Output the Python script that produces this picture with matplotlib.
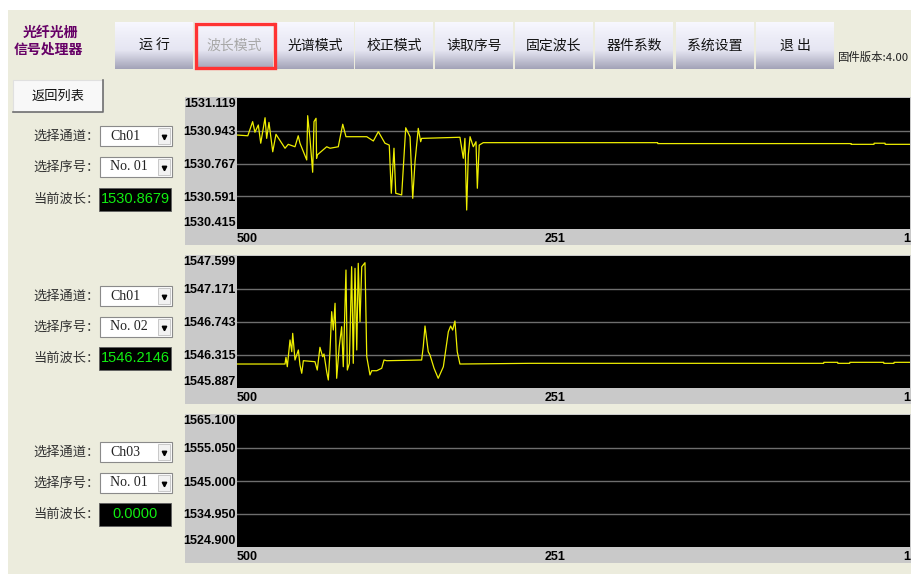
import numpy as np
import matplotlib.pyplot as plt
from matplotlib.patches import Rectangle
from matplotlib.transforms import ScaledTranslation

W, H = 912, 574
CJK = ['Noto Sans CJK SC', 'DejaVu Sans']

# top menu
buttons = ['运 行', '波长模式', '光谱模式', '校正模式', '读取序号', '固定波长', '器件系数', '系统设置', '退 出']
btn_left = [115, 195, 276, 355, 435, 515, 595, 676, 756]

# channel panels
ch_names = ['Ch01', 'Ch01', 'Ch03']
seq_names = ['No. 01', 'No. 02', 'No. 01']
cur_wave = ['1530.8679', '1546.2146', '0.0000']

ticks1 = [1530.415, 1530.591, 1530.767, 1530.943, 1531.119]
ticks2 = [1545.887, 1546.315, 1546.743, 1547.171, 1547.599]
ticks3 = [1524.900, 1534.950, 1545.000, 1555.050, 1565.100]
x_ticks = [500, 251, 1]
x_labels = ['500', '251', '1']

# channel 1 trace (sample index, wavelength)
ch1_idx = [500, 492, 488.4, 486.7, 484.2, 482.4, 479.2, 478.0, 476.3, 473.5, 471.1, 464.4, 462.0,
           457.0, 454.6, 453.3, 448.3, 447.6, 445.9, 443.9, 442.9, 441.4, 441.0, 440.5, 433.5,
           431.0, 424.9, 421.6, 419.2, 403.8, 398.9, 395.2, 390.3, 387.1, 385.6, 383.6, 382.3,
           377.9, 374.9, 371.7, 369.7, 368.0, 365.6, 363.8, 363.1, 334.7, 332.2, 331.0, 329.7,
           328.5, 327.2, 324.8, 322.8, 321.8, 320.4, 317.4, 188.1, 188.0, 44.7, 44.6, 27.7,
           27.6, 19.5, 19.4, 1]
ch1_val = [1530.920, 1530.916, 1530.992, 1530.935, 1530.974, 1530.876, 1531.013, 1530.902,
           1530.988, 1530.830, 1530.924, 1530.849, 1530.870, 1530.857, 1530.916, 1530.876,
           1530.786, 1531.024, 1530.902, 1530.720, 1530.992, 1531.010, 1530.795, 1530.813,
           1530.857, 1530.849, 1530.857, 1530.978, 1530.911, 1530.911, 1530.888, 1530.938,
           1530.876, 1530.866, 1530.607, 1530.849, 1530.607, 1530.598, 1530.959, 1530.911,
           1530.580, 1530.777, 1530.956, 1530.884, 1530.902, 1530.908, 1530.795, 1530.902,
           1530.517, 1530.813, 1530.911, 1530.857, 1530.884, 1530.634, 1530.866, 1530.879,
           1530.879, 1530.874, 1530.874, 1530.870, 1530.870, 1530.876, 1530.876, 1530.870,
           1530.870]

# channel 2 trace
ch2_idx = [500, 464.4, 463.7, 462.7, 460.7, 459.4, 458.7, 457.0, 454.5, 453.3, 452.0, 450.8,
           442.2, 440.5, 438.5, 436.5, 435.5, 433.5, 432.3, 431.0, 429.8, 428.6, 427.3, 426.1,
           424.2, 422.4, 421.2, 419.2, 418.2, 416.7, 415.0, 413.8, 412.5, 411.2, 410.1, 408.8,
           407.5, 405.1, 403.8, 401.4, 400.1, 396.4, 392.7, 391.0, 389.0, 363.1, 361.9, 360.6,
           358.2, 356.9, 353.9, 350.8, 347.0, 343.3, 341.6, 340.1, 338.4, 336.7, 334.7, 282.8,
           65.0, 64.9, 54.6, 54.5, 45.7, 45.6, 20.5, 20.4, 12.9, 12.8, 1]
ch2_val = [1546.198, 1546.198, 1546.285, 1546.163, 1546.510, 1546.358, 1546.596, 1546.250,
           1546.380, 1546.185, 1546.078, 1546.241, 1546.228, 1546.120, 1546.415, 1546.293,
           1546.328, 1546.098, 1545.991, 1546.380, 1546.877, 1546.639, 1546.986, 1546.013,
           1546.423, 1546.682, 1546.163, 1547.417, 1546.120, 1546.207, 1547.460, 1546.207,
           1547.439, 1546.380, 1547.504, 1546.747, 1547.460, 1547.512, 1546.293, 1546.056,
           1546.111, 1546.111, 1546.143, 1546.250, 1546.241, 1546.250, 1546.423, 1546.691,
           1546.358, 1546.315, 1546.143, 1546.013, 1546.163, 1546.617, 1546.691, 1546.639,
           1546.756, 1546.358, 1546.198, 1546.207, 1546.207, 1546.220, 1546.220, 1546.207,
           1546.207, 1546.220, 1546.220, 1546.207, 1546.207, 1546.220, 1546.220]


def fig_rect(x, y, w, h):
    return [x / W, 1 - (y + h) / H, w / W, h / H]


fig = plt.figure(figsize=(W / 100, H / 100), dpi=100, facecolor='white')
ax0 = fig.add_axes([0, 0, 1, 1])
ax0.set_xlim(0, W)
ax0.set_ylim(H, 0)
ax0.axis('off')

ax0.add_patch(Rectangle((8, 10), W - 8, H - 10, color='#ECECDD', lw=0))

# button gradient
stops = np.array([[0.97, 0.97, 1.0], [0.93, 0.93, 0.97], [0.90, 0.90, 0.95], [0.64, 0.64, 0.72]])
pos = np.linspace(0, 1, 60)
grad = np.stack([np.interp(pos, [0, 0.3, 0.6, 1], stops[:, c]) for c in range(3)], axis=1)
grad = grad[:, None, :]

for lbl, x0 in zip(buttons, btn_left):
    ax0.imshow(grad, extent=(x0, x0 + 78, 69, 22), aspect='auto', origin='upper', zorder=1)
    col = '#A8A8A8' if lbl == '波长模式' else '#111111'
    ax0.text(x0 + 39, 46, lbl, ha='center', va='center', fontsize=10, color=col, family=CJK, zorder=3)
ax0.add_patch(Rectangle((196, 24), 79, 44, fill=False, ec='#FF3333', lw=2.4, zorder=4))
ax0.set_xlim(0, W)
ax0.set_ylim(H, 0)

ax0.text(50, 33, '光纤光栅', ha='center', va='center', fontsize=10, fontweight='bold',
         color='#660066', family=CJK)
ax0.text(48, 50, '信号处理器', ha='center', va='center', fontsize=10, fontweight='bold',
         color='#660066', family=CJK)
ax0.text(838, 57, '固件版本:4.00', ha='left', va='center', fontsize=8.2, color='#222222', family=CJK)

# back button
ax0.add_patch(Rectangle((13, 80), 90, 32, fc='#F8F8F8', ec='#E0E0E0', lw=0.8))
ax0.plot([103, 103, 13], [80, 112, 112], color='#707070', lw=1.2)
ax0.text(58, 96, '返回列表', ha='center', va='center', fontsize=9.5, color='#111111', family=CJK)

row_y = [[136, 167, 199], [296, 327, 358], [452, 483, 514]]
plot_px = [(237, 98, 673, 131), (237, 256, 673, 132), (237, 415, 673, 132)]
panel_px = [(185, 97, 727, 148), (185, 255, 727, 149), (185, 414, 727, 149)]
y_ticks = [ticks1, ticks2, ticks3]
traces = [(ch1_idx, ch1_val), (ch2_idx, ch2_val), None]

for i in range(3):
    ya, yb, yc = row_y[i]
    ax0.text(33, ya, '选择通道：', ha='left', va='center', fontsize=9.5, color='#333333', family=CJK)
    ax0.text(33, yb, '选择序号：', ha='left', va='center', fontsize=9.5, color='#333333', family=CJK)
    ax0.text(33, yc, '当前波长：', ha='left', va='center', fontsize=9.5, color='#333333', family=CJK)
    for yy, txt in [(ya, ch_names[i]), (yb, seq_names[i])]:
        ax0.add_patch(Rectangle((100, yy - 10), 72, 20, fc='white', ec='#8A8A8A', lw=0.8))
        ax0.add_patch(Rectangle((158, yy - 8), 12.5, 16, fc='#F2F2F2', ec='#C0C0C0', lw=0.6))
        ax0.plot([164.2], [yy + 0.5], marker='v', ms=3.2, color='black')
        ax0.text(110, yy, txt, ha='left', va='center', fontsize=10, color='#222222',
                 family='Liberation Serif')
    ax0.add_patch(Rectangle((99, yc - 11.5), 72, 23, fc='black', ec='#606060', lw=0.6))
    ax0.text(135.5, yc, cur_wave[i], ha='center', va='center', fontsize=10.5, color='#11EE11',
             family='Liberation Sans')

    px, py, pw, ph = panel_px[i]
    ax0.add_patch(Rectangle((px, py), pw, ph, color='#C9C9C9', lw=0))

    ax = fig.add_axes(fig_rect(*plot_px[i]))
    ax.set_facecolor('black')
    for s in ax.spines.values():
        s.set_visible(False)
    t = y_ticks[i]
    ax.set_xlim(500, 1)
    ax.set_ylim(t[0], t[-1])
    ax.set_yticks(t, [f'{v:.3f}' for v in t])
    ax.set_xticks(x_ticks, x_labels)
    ax.tick_params(length=0, labelsize=9, pad=1)
    ax.tick_params(axis='x', pad=3)
    for lab in ax.get_yticklabels() + ax.get_xticklabels():
        lab.set_fontweight('bold')
        lab.set_family('Liberation Sans')
    ylabs = ax.get_yticklabels()
    ylabs[0].set_va('bottom')
    ylabs[-1].set_va('top')
    xlabs = ax.get_xticklabels()
    xlabs[0].set_ha('left')
    xlabs[-1].set_ha('right')
    xlabs[1].set_transform(xlabs[1].get_transform() + ScaledTranslation(-0.18, 0, fig.dpi_scale_trans))
    ax.yaxis.grid(True, color='#6E6E6E', lw=1.0)
    gl = ax.get_ygridlines()
    gl[0].set_visible(False)
    gl[-1].set_visible(False)
    if traces[i] is not None:
        ax.plot(traces[i][0], traces[i][1], color='#EEEE00', lw=0.9)

fig.savefig('out.png', dpi=100, facecolor='white')
